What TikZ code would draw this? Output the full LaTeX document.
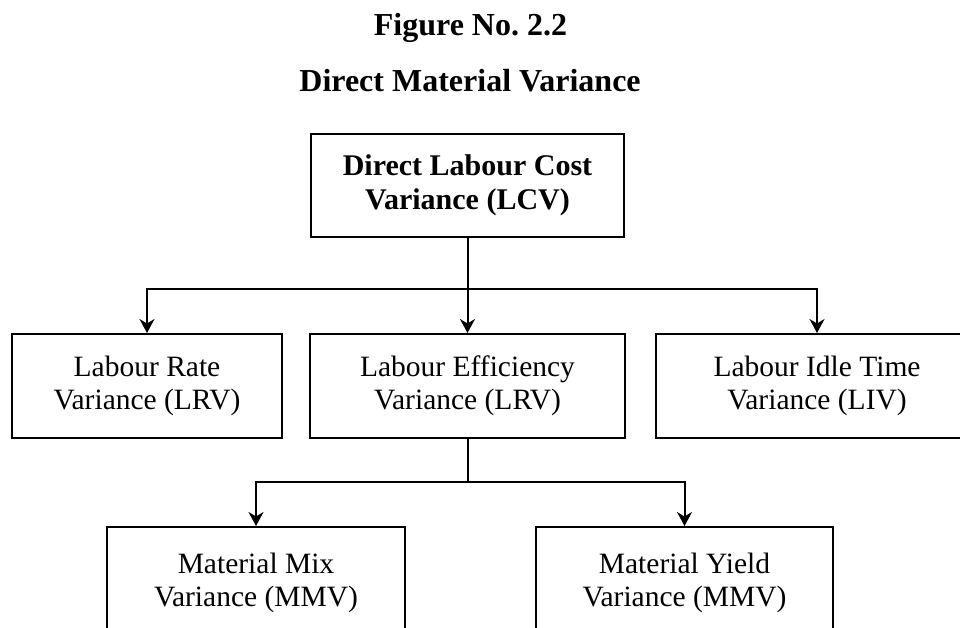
\documentclass[tikz,border=0pt]{standalone}
\usepackage{fontspec}
\setmainfont{Liberation Serif}
\usetikzlibrary{arrows.meta,positioning}
\definecolor{ink}{HTML}{000000}
\tikzset{
  >={Stealth[length=14pt,width=15pt,inset=4.5pt]},
  every picture/.style={line join=miter},
  title/.style={font=\fontsize{32}{38}\selectfont\bfseries, text=ink, anchor=base},
  box/.style={draw=ink, fill=white, line width=2pt, align=center, text=ink,
    font=\fontsize{29.5}{33}\selectfont, inner sep=0pt, minimum height=104pt},
  topbox/.style={box, font=\fontsize{30}{34}\selectfont\bfseries, minimum width=313pt, minimum height=103pt},
  arr/.style={->, draw=ink, line width=2pt},
  link/.style={draw=ink, line width=2pt},
}
\begin{document}
\begin{tikzpicture}[x=1pt,y=-1pt]
  \clip (0,0) rectangle (960,627);
  \fill[white] (0,0) rectangle (960,627);
  % headings
  \node[title] (fig) at (470.5,35) {Figure No.\ 2.2};
  \node[title] (head) at (470,91) {Direct Material Variance};
  % top
  \node[topbox] (lcv) at (467.5,185) {Direct Labour Cost\\ Variance (LCV)};
  % second row
  \node[box, minimum width=270pt] (lrv) at (147,386) {Labour Rate\\ Variance (LRV)};
  \node[box, minimum width=315pt] (lev) at (467.5,386) {Labour Efficiency\\ Variance (LRV)};
  \node[box, minimum width=322pt] (liv) at (817,386) {Labour Idle Time\\ Variance (LIV)};
  % third row
  \node[box, minimum width=298pt, minimum height=112pt] (mmv) at (256,583) {Material Mix\\ Variance (MMV)};
  \node[box, minimum width=297pt, minimum height=112pt] (myv) at (684.5,583) {Material Yield\\ Variance (MMV)};
  % connectors
  \coordinate (split1) at (467.5,289);
  \coordinate (split2) at (467.5,482);
  \draw[arr] (lcv) -- (lev);
  \draw[arr] (split1) -| (lrv);
  \draw[arr] (split1) -| (liv);
  \draw[link] (lev) -- (split2);
  \draw[arr] (split2) -| (mmv);
  \draw[arr] (split2) -| (myv);
\end{tikzpicture}
\end{document}
